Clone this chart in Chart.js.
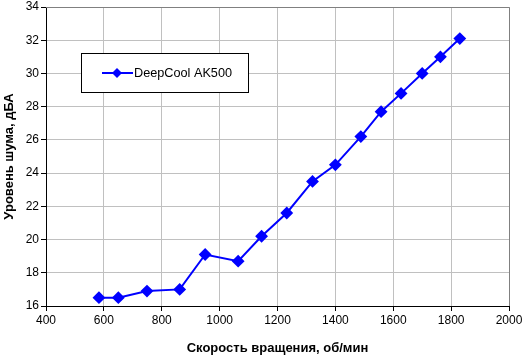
<!DOCTYPE html>
<html><head><meta charset="utf-8">
<script src="https://cdn.jsdelivr.net/npm/chart.js@4/dist/chart.umd.min.js"></script>
<style>html,body{margin:0;padding:0;background:#fff}#wrap{width:522px;height:356px}</style>
</head><body><div id="wrap"><canvas id="c" width="522" height="356"></canvas></div>
<script>
const seriesName = "DeepCool AK500";
const rpm = [583, 650, 749, 862, 950, 1064, 1145, 1232, 1321, 1400, 1488, 1558, 1627, 1700, 1763, 1830];
const noise = [16.5, 16.5, 16.9, 17.0, 19.1, 18.7, 20.2, 21.6, 23.5, 24.5, 26.2, 27.7, 28.8, 30.0, 31.0, 32.1];
const xTitle = "Скорость вращения, об/мин";
const yTitle = "Уровень шума, дБА";

const FONT = "'Liberation Sans', Arial, sans-serif";
Chart.defaults.font.family = FONT;
Chart.defaults.font.size = 12;
Chart.defaults.color = '#000';

const frame = {
  id: 'frame',
  afterDraw(chart) {
    const {ctx, chartArea: a} = chart;
    ctx.save();
    ctx.strokeStyle = '#808080';
    ctx.lineWidth = 1;
    ctx.beginPath();
    ctx.moveTo(a.left, a.top + 0.5); ctx.lineTo(a.right + 0.5, a.top + 0.5); ctx.lineTo(a.right + 0.5, a.bottom);
    ctx.stroke();
    // legend
    const ds = chart.data.datasets[0];
    const bx = 81.5, by = 53.5, bw = 167, bh = 39;
    ctx.fillStyle = '#fff';
    ctx.fillRect(bx, by, bw, bh);
    ctx.strokeStyle = '#000';
    ctx.strokeRect(bx, by, bw, bh);
    const cy = by + bh / 2;
    ctx.strokeStyle = ds.borderColor; ctx.lineWidth = 2;
    ctx.beginPath(); ctx.moveTo(102, cy); ctx.lineTo(133, cy); ctx.stroke();
    ctx.fillStyle = ds.borderColor;
    ctx.beginPath();
    ctx.moveTo(117, cy - 5); ctx.lineTo(122, cy); ctx.lineTo(117, cy + 5); ctx.lineTo(112, cy); ctx.closePath(); ctx.fill();
    ctx.fillStyle = '#000';
    ctx.font = '12.7px ' + FONT;
    ctx.textBaseline = 'middle';
    ctx.fillText(ds.label, 134, cy);
    ctx.restore();
  }
};

new Chart(document.getElementById('c'), {
  type: 'line',
  data: {
    datasets: [{
      label: seriesName,
      data: rpm.map((x, i) => ({x, y: noise[i]})),
      borderColor: '#0000ff',
      backgroundColor: '#0000ff',
      borderWidth: 2,
      pointStyle: 'rectRot',
      pointRadius: 5,
      pointHoverRadius: 5,
      tension: 0
    }]
  },
  options: {
    responsive: false,
    animation: false,
    events: [],
    layout: {padding: {top: 5, right: 13, left: 0, bottom: 0}},
    plugins: {legend: {display: false}, tooltip: {enabled: false}},
    scales: {
      x: {
        type: 'linear', min: 400, max: 2000,
        ticks: {stepSize: 200, padding: 2, maxRotation: 0, font: {size: 12}, callback: v => String(v)},
        grid: {color: '#c0c0c0', tickColor: '#000', tickLength: 5, drawTicks: true},
        border: {color: '#000', width: 1},
        title: {display: true, text: xTitle, font: {size: 13, weight: 'bold'}, padding: {top: 3, bottom: 0}},
        afterFit(s) { s.height = 50; s.paddingLeft = 0; s.paddingRight = 0; }
      },
      y: {
        min: 16, max: 34,
        ticks: {stepSize: 2, padding: 2, font: {size: 12}, callback: v => String(v)},
        grid: {color: '#c0c0c0', tickColor: '#000', tickLength: 5},
        border: {color: '#000', width: 1},
        title: {display: true, text: yTitle, font: {size: 13, weight: 'bold'}, padding: {top: 2, bottom: 2}},
        afterFit(s) { s.width = 46; s.paddingTop = 0; s.paddingBottom = 0; }
      }
    }
  },
  plugins: [frame]
});
</script></body></html>
